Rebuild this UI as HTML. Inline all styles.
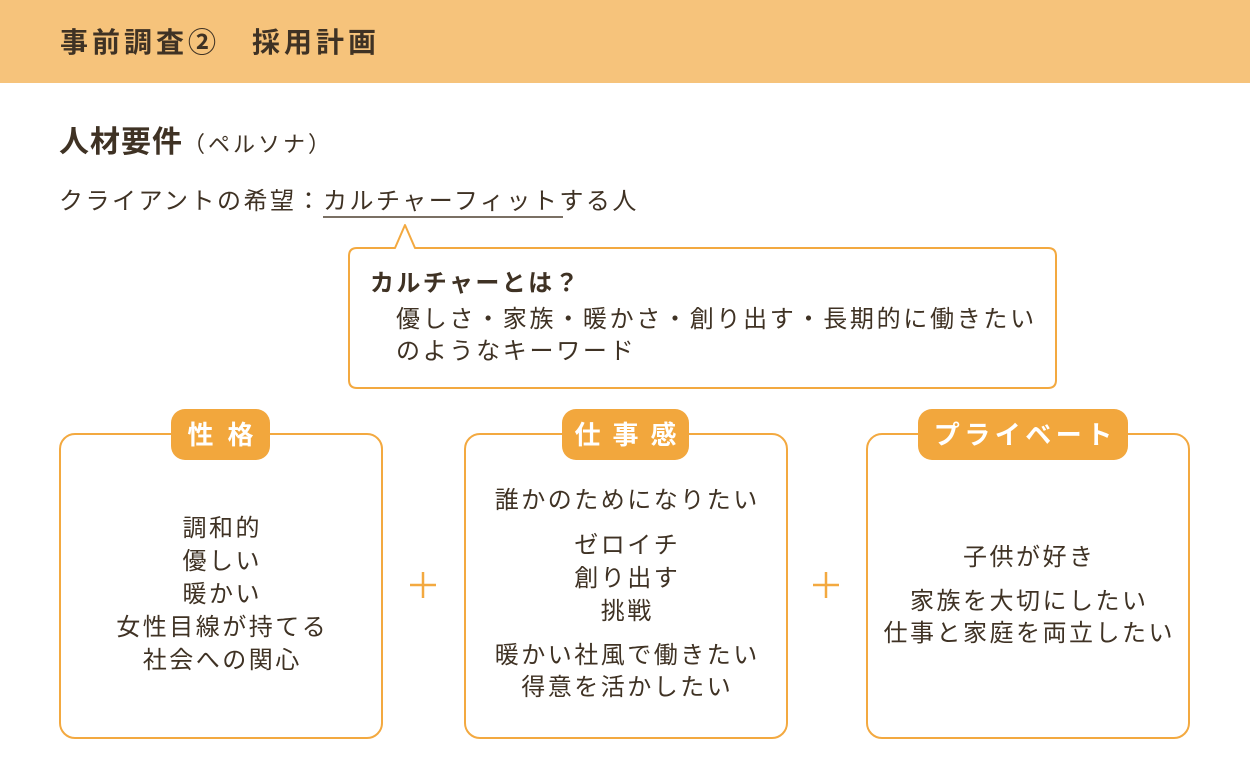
<!DOCTYPE html>
<html lang="ja">
<head>
<meta charset="utf-8">
<style>
  html,body{margin:0;padding:0;}
  body{width:1250px;height:781px;position:relative;overflow:hidden;background:#fff;
    font-family:"Liberation Sans","Noto Sans CJK JP",sans-serif;color:#3f3224;}
  .abs{position:absolute;white-space:nowrap;}
  .t{font-size:24px;letter-spacing:2.5px;line-height:33px;height:33px;}
  .c{width:400px;text-align:center;padding-left:2.5px;box-sizing:border-box;}
  .pill{position:absolute;background:#F2A73D;border-radius:14px;height:51px;top:409px;
    color:#fff;font-weight:bold;font-size:26px;line-height:53px;text-align:center;white-space:nowrap;}
</style>
</head>
<body>
<svg class="abs" style="left:0;top:0" width="1250" height="781" viewBox="0 0 1250 781">
  <rect x="0" y="0" width="1250" height="83" fill="#F6C37B"/>
  <!-- callout -->
  <path d="M357 248 H395 L405 225 L415 248 H1048 Q1056 248 1056 256 V380 Q1056 388 1048 388 H357 Q349 388 349 380 V256 Q349 248 357 248 Z"
        fill="#fff" stroke="#F3A940" stroke-width="2" stroke-linejoin="round"/>
  <!-- boxes -->
  <rect x="60" y="434" width="322" height="304" rx="15" ry="15" fill="#fff" stroke="#F3A940" stroke-width="2"/>
  <rect x="465" y="434" width="322" height="304" rx="15" ry="15" fill="#fff" stroke="#F3A940" stroke-width="2"/>
  <rect x="867" y="434" width="322" height="304" rx="15" ry="15" fill="#fff" stroke="#F3A940" stroke-width="2"/>
  <!-- plus signs -->
  <g stroke="#F3A940" stroke-width="2.5">
    <line x1="410" y1="585" x2="436" y2="585"/>
    <line x1="423" y1="572" x2="423" y2="598"/>
    <line x1="813" y1="585" x2="839" y2="585"/>
    <line x1="826" y1="572" x2="826" y2="598"/>
  </g>
  <!-- underline -->
  <line x1="323" y1="217" x2="563" y2="217" stroke="#4f4030" stroke-width="1.5"/>
</svg>

<!-- header title -->
<div class="abs" style="left:60px;top:23px;font-size:28px;font-weight:bold;letter-spacing:4px;line-height:40px;">事前調査②　採用計画</div>

<!-- heading -->
<div class="abs" style="left:59px;top:123px;font-size:30px;font-weight:bold;letter-spacing:1px;line-height:40px;">人材要件<span style="font-size:22px;font-weight:normal;letter-spacing:3px;">（ペルソナ）</span></div>

<!-- client wish -->
<div class="abs t" style="left:59px;top:187px;line-height:30px;">クライアントの希望：カルチャーフィットする人</div>

<!-- callout text -->
<div class="abs" style="left:370px;top:269px;font-size:24px;font-weight:bold;letter-spacing:2.4px;line-height:30px;">カルチャーとは？</div>
<div class="abs t" style="left:396px;top:305px;line-height:30px;letter-spacing:2.7px;">優しさ・家族・暖かさ・創り出す・長期的に働きたい</div>
<div class="abs t" style="left:396px;top:337px;line-height:30px;letter-spacing:2.7px;">のようなキーワード</div>

<!-- pills -->
<div class="pill" style="left:171px;width:99px;letter-spacing:14px;padding-left:14px;box-sizing:border-box;">性格</div>
<div class="pill" style="left:562px;width:127px;letter-spacing:12px;padding-left:12px;box-sizing:border-box;">仕事感</div>
<div class="pill" style="left:918px;width:210px;letter-spacing:4.5px;padding-left:4.5px;box-sizing:border-box;">プライベート</div>

<!-- box 1 -->
<div class="abs t c" style="left:21px;top:512px;">調和的</div>
<div class="abs t c" style="left:21px;top:545px;">優しい</div>
<div class="abs t c" style="left:21px;top:578px;">暖かい</div>
<div class="abs t c" style="left:21px;top:611px;">女性目線が持てる</div>
<div class="abs t c" style="left:21px;top:644px;">社会への関心</div>

<!-- box 2 -->
<div class="abs t c" style="left:426px;top:484px;">誰かのためになりたい</div>
<div class="abs t c" style="left:426px;top:529px;">ゼロイチ</div>
<div class="abs t c" style="left:426px;top:562px;">創り出す</div>
<div class="abs t c" style="left:426px;top:595px;">挑戦</div>
<div class="abs t c" style="left:426px;top:639px;">暖かい社風で働きたい</div>
<div class="abs t c" style="left:426px;top:671px;">得意を活かしたい</div>

<!-- box 3 -->
<div class="abs t c" style="left:828px;top:541px;">子供が好き</div>
<div class="abs t c" style="left:828px;top:585px;">家族を大切にしたい</div>
<div class="abs t c" style="left:828px;top:617px;">仕事と家庭を両立したい</div>
</body>
</html>
